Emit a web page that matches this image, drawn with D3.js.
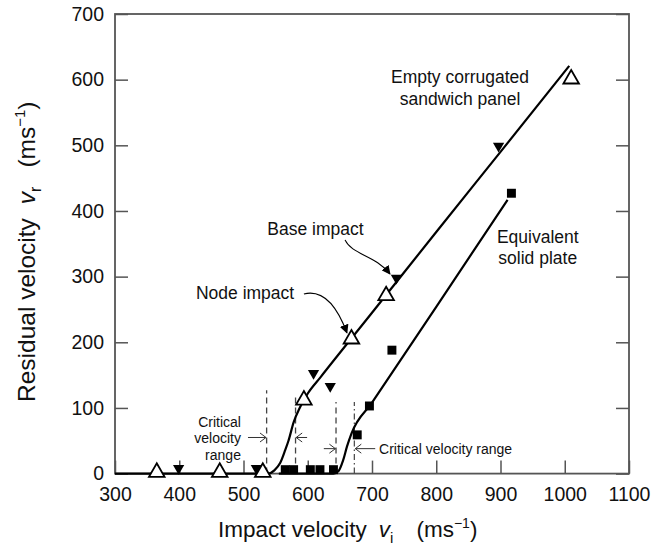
<!DOCTYPE html>
<html><head><meta charset="utf-8">
<script src="https://cdn.jsdelivr.net/npm/d3@7/dist/d3.min.js"></script>
<style>
body{margin:0;background:#fff}
svg{display:block;font-family:"Liberation Sans",Arial,Helvetica,sans-serif}
</style>
</head><body>
<svg id="chart" width="670" height="554"></svg>
<script>
// ---- data ----
const xTicks = [300,400,500,600,700,800,900,1000,1100];
const yTicks = [0,100,200,300,400,500,600,700];

// Node impact (open triangles)
const nodeX = [365,463,530,594,668,722,1010];
const nodeY = [2,2,2,112,205,271,601];
// Base impact (filled inverted triangles)
const baseX = [399,520,609,635,738,897];
const baseY = [8,8,153,133,298,499];
// Equivalent solid plate (filled squares)
const plateX = [565,578,604,619,640,677,696,731,917];
const plateY = [6,6,6,6,6,59,103,188,427];

// Fitted curves
const sandLineX = [300,538,548,557,565,570,578,588,600,620,700,800,900,1007];
const sandLineY = [0,0,5,16,36,50,78,101,122,147,245,368,490,621];
const plateLineX = [555,640,648,655,661,668,700,800,911];
const plateLineY = [0,0,4,20,41,61,108,254,417];

// Critical velocity markers
const dashedX = [536,581,644];
const dashedTop = [127,120,109];
const dashDotX = [672.5];
const dashDotTop = [109];

// ---- scales ----
const svg = d3.select("#chart");
const x = d3.scaleLinear().domain([300,1100]).range([115,629]);
const y = d3.scaleLinear().domain([0,700]).range([473.6,14]);
const axisColor = "#555";

// axes
const gB = svg.append("g").attr("transform",`translate(0,${y(0)})`)
  .call(d3.axisBottom(x).tickValues(xTicks).tickSize(-13).tickPadding(13).tickFormat(d3.format("d")));
const gL = svg.append("g").attr("transform",`translate(${x(300)},0)`)
  .call(d3.axisLeft(y).tickValues(yTicks).tickSize(-13).tickPadding(11).tickFormat(d3.format("d")));
const gR = svg.append("g").attr("transform",`translate(${x(1100)},0)`)
  .call(d3.axisRight(y).tickValues(yTicks).tickSize(-13).tickFormat(""));
[gB,gL,gR].forEach(g=>{
  g.select(".domain").remove();
  g.selectAll(".tick line").attr("stroke",axisColor).attr("stroke-width",1.5);
  g.selectAll(".tick text").attr("fill","#111").style("font-size","19.5px").style("font-family","'Liberation Sans',Arial,sans-serif");
});
gB.selectAll(".tick text").attr("dy","0.75em");
// frame
svg.append("rect").attr("x",x(300)).attr("y",y(700))
  .attr("width",x(1100)-x(300)).attr("height",y(0)-y(700))
  .attr("fill","none").attr("stroke",axisColor).attr("stroke-width",1.8);

// critical velocity lines
svg.append("g").selectAll("line").data(dashedX).join("line")
  .attr("x1",d=>x(d)).attr("x2",d=>x(d))
  .attr("y1",y(0)).attr("y2",(d,i)=>y(dashedTop[i]))
  .attr("stroke","#444").attr("stroke-width",1.3).attr("stroke-dasharray","6,4");
svg.append("g").selectAll("line").data(dashDotX).join("line")
  .attr("x1",d=>x(d)).attr("x2",d=>x(d))
  .attr("y1",y(0)).attr("y2",(d,i)=>y(dashDotTop[i]))
  .attr("stroke","#444").attr("stroke-width",1.2).attr("stroke-dasharray","6,3,1.5,3");

// fitted lines
const line = d3.line().x(d=>x(d[0])).y(d=>y(d[1])).curve(d3.curveMonotoneX);
svg.append("path").attr("d",line(d3.zip(sandLineX,sandLineY)))
  .attr("fill","none").attr("stroke","#000").attr("stroke-width",2.2);
svg.append("path").attr("d",line(d3.zip(plateLineX,plateLineY)))
  .attr("fill","none").attr("stroke","#000").attr("stroke-width",2.2);

// markers
const triUp = d3.symbol().type(d3.symbolTriangle).size(105);
const triDn = d3.symbol().type(d3.symbolTriangle).size(55);
const sq = d3.symbol().type(d3.symbolSquare).size(80);
svg.append("g").selectAll("path").data(d3.zip(plateX,plateY)).join("path")
  .attr("d",sq).attr("transform",d=>`translate(${x(d[0])},${y(d[1])})`).attr("fill","#000");
svg.append("g").selectAll("path").data(d3.zip(baseX,baseY)).join("path")
  .attr("d",triDn).attr("transform",d=>`translate(${x(d[0])},${y(d[1])}) rotate(180)`).attr("fill","#000");
svg.append("g").selectAll("path").data(d3.zip(nodeX,nodeY)).join("path")
  .attr("d",triUp).attr("transform",d=>`translate(${x(d[0])},${y(d[1])})`)
  .attr("fill","#fff").attr("stroke","#000").attr("stroke-width",1.8);

// ---- annotations ----
const ann = svg.append("g").attr("fill","#111");
function label(lines, xv, yv, size, anchor, lh){
  const t = ann.append("text").attr("text-anchor",anchor).style("font-size",size+"px");
  lines.forEach((s,i)=>t.append("tspan").attr("x",x(xv)).attr("y",y(yv)+i*lh).text(s));
}
label(["Empty corrugated","sandwich panel"], 837, 595, 17.5, "middle", 22);
label(["Equivalent","solid plate"], 958, 351, 17.5, "middle", 20.5);
label(["Base impact"], 537, 363, 17.5, "start", 0);
label(["Node impact"], 426, 265.5, 17.5, "start", 0);
label(["Critical","velocity","range"], 496, 71, 14, "end", 16.5);
label(["Critical velocity range"], 711, 30, 14, "start", 0);

// curved pointer arrows (start, control1, control2, end in data units)
const defs = svg.append("defs");
defs.append("marker").attr("id","ah").attr("viewBox","0 0 10 10").attr("refX",9).attr("refY",5)
  .attr("markerWidth",9).attr("markerHeight",9).attr("orient","auto").attr("markerUnits","userSpaceOnUse")
  .append("path").attr("d","M0,0 L10,5 L0,10 Z").attr("fill","#000");
const ptr = [
  [[658,356],[669,333],[705,333],[728,304]],
  [[594,273.6],[619,279.6],[642,264.4],[661,214.3]]
];
ptr.forEach(a=>{
  const [p0,c1,c2,p1]=a.map(d=>[x(d[0]),y(d[1])]);
  svg.append("path").attr("d",`M${p0}C${c1} ${c2} ${p1}`)
    .attr("fill","none").attr("stroke","#000").attr("stroke-width",1.1).attr("marker-end","url(#ah)");
});

// straight critical arrows (chevron heads)
const crit = [{from:507,to:535,v:55},{from:599,to:582,v:55},{from:625,to:643,v:38},{from:705,to:674,v:38}];
crit.forEach(a=>{
  const hx=x(a.to), tx=x(a.from), yy=y(a.v), d=Math.sign(hx-tx);
  svg.append("line").attr("x1",tx).attr("x2",hx).attr("y1",yy).attr("y2",yy).attr("stroke","#333").attr("stroke-width",1);
  svg.append("polyline").attr("points",`${hx-d*6},${yy-4.5} ${hx},${yy} ${hx-d*6},${yy+4.5}`)
    .attr("fill","none").attr("stroke","#333").attr("stroke-width",1);
});

// axis titles
const xt = svg.append("text").attr("x",218).attr("y",537).style("font-size","22.5px").attr("fill","#111");
xt.append("tspan").text("Impact velocity");
xt.append("tspan").attr("dx",12).style("font-style","italic").text("v");
xt.append("tspan").attr("dy",6).style("font-size","15px").text("i");
xt.append("tspan").attr("dy",-6).attr("dx",23).text("(ms");
xt.append("tspan").attr("dy",-9).style("font-size","14px").text("\u22121");
xt.append("tspan").attr("dy",9).text(")");

const yt = svg.append("text").attr("transform","translate(35,402) rotate(-90)").style("font-size","24.5px").attr("fill","#111");
yt.append("tspan").text("Residual velocity");
yt.append("tspan").attr("dx",14).style("font-style","italic").text("v");
yt.append("tspan").attr("dy",6).style("font-size","16px").text("r");
yt.append("tspan").attr("dy",-6).attr("dx",19).text("(ms");
yt.append("tspan").attr("dy",-10).style("font-size","15px").text("\u22121");
yt.append("tspan").attr("dy",10).text(")");
</script>
</body></html>
